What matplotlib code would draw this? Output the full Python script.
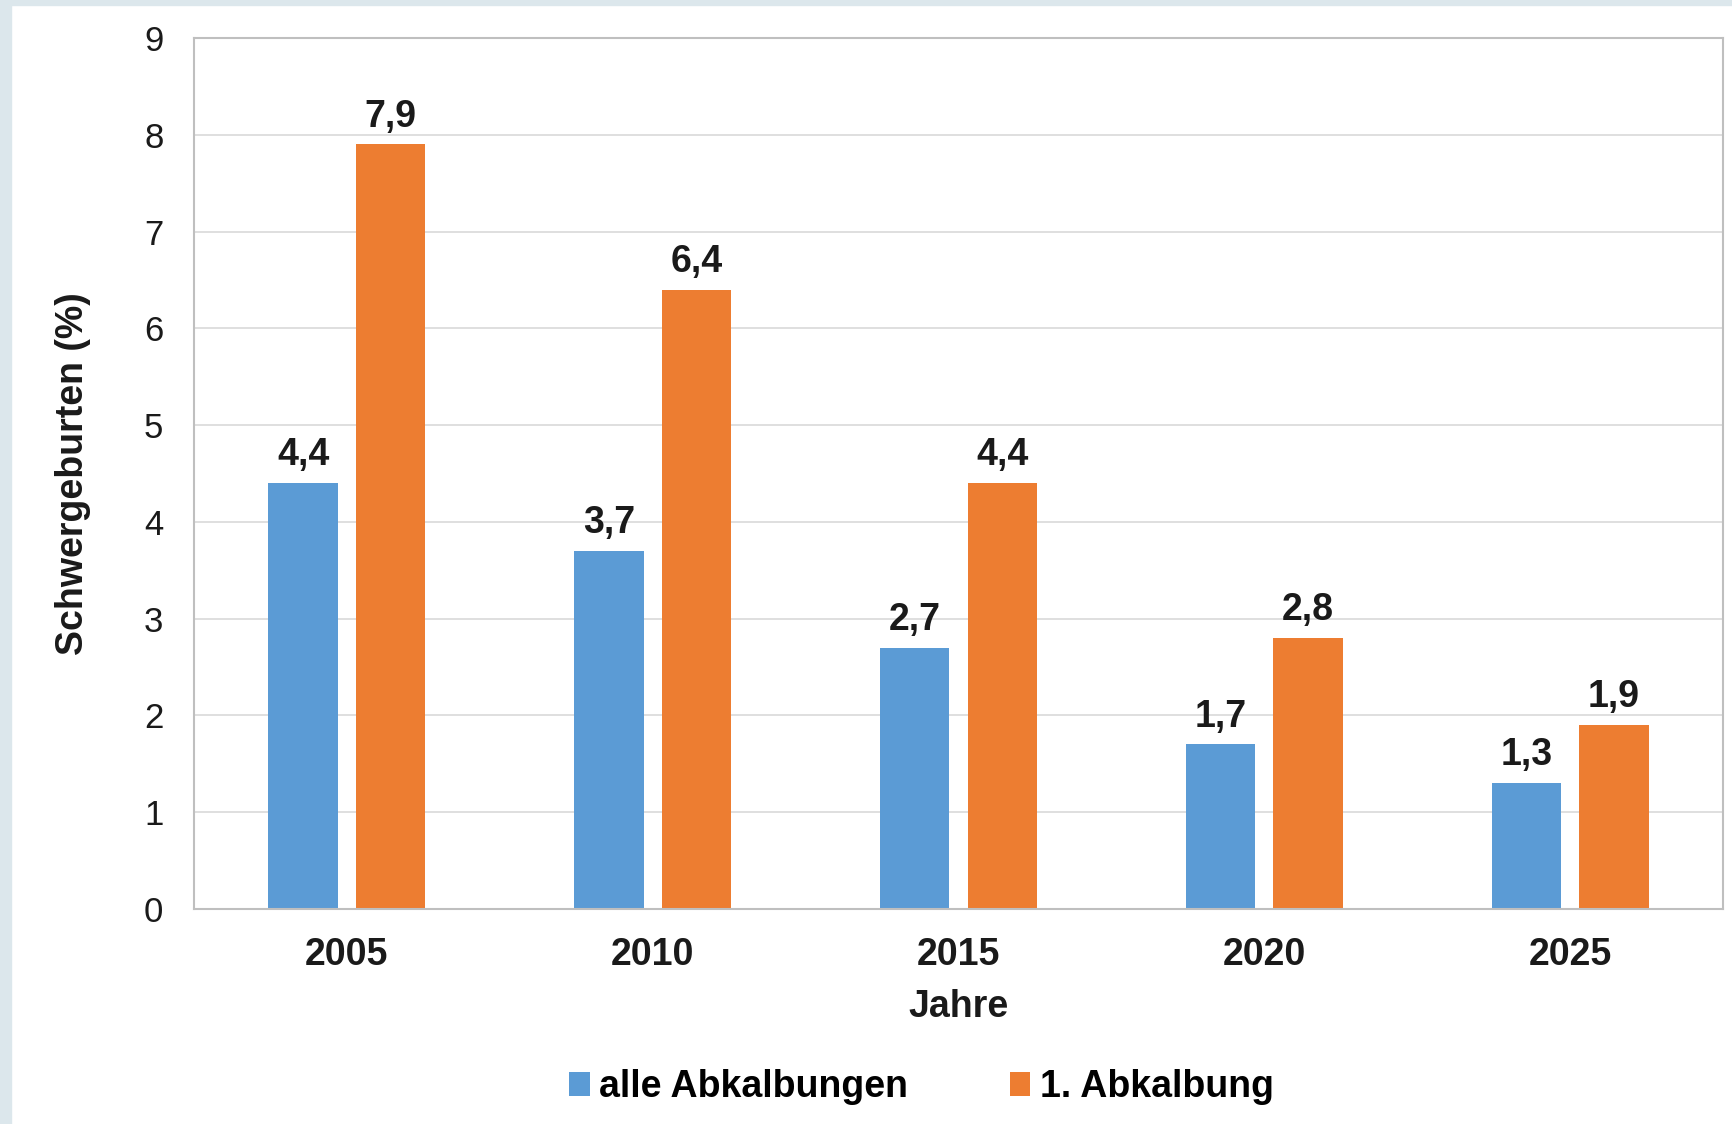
import numpy as np
import matplotlib.pyplot as plt
from matplotlib.patches import Rectangle

plt.rcParams['font.family'] = ['Liberation Sans', 'DejaVu Sans']

# Daten
jahre = ['2005', '2010', '2015', '2020', '2025']
alle_abkalbungen = [4.4, 3.7, 2.7, 1.7, 1.3]
erste_abkalbung = [7.9, 6.4, 4.4, 2.8, 1.9]
serien = ['alle Abkalbungen', '1. Abkalbung']
farben = ['#5b9bd5', '#ed7d31']

fig = plt.figure(figsize=(17.32, 11.24), dpi=100)
fig.patch.set_facecolor('white')
# hellblauer Rand oben und links
fig.patches.append(Rectangle((0, 0.9955), 1, 0.0045, transform=fig.transFigure,
                             color='#dce7ec', zorder=0))
fig.patches.append(Rectangle((0, 0), 0.0064, 1, transform=fig.transFigure,
                             color='#dce7ec', zorder=0))

ax = fig.add_axes([194 / 1732, 1 - 909 / 1124, (1723 - 194) / 1732, (909 - 38) / 1124])

x = np.arange(len(jahre))
breite = 0.227
versatz = 0.143

for werte, farbe, name, dx in zip([alle_abkalbungen, erste_abkalbung], farben, serien,
                                  [-versatz, versatz]):
    bars = ax.bar(x + dx, werte, width=breite, color=farbe, label=name, zorder=2)
    for b, w in zip(bars, werte):
        ax.annotate(f'{w:.1f}'.replace('.', ','), (b.get_x() + b.get_width() / 2, w),
                    xytext=(0, 7), textcoords='offset points', ha='center', va='bottom',
                    fontsize=27, fontweight='bold', color='#1a1a1a')

ax.set_xlim(-0.5, len(jahre) - 0.5)
ax.set_ylim(0, 9)
ax.set_yticks(range(10))
ax.set_xticks(x)
ax.set_xticklabels(jahre, fontsize=27, fontweight='bold', color='#1a1a1a')
ax.tick_params(axis='y', labelsize=25, length=0, pad=22, labelcolor='#1a1a1a')
ax.tick_params(axis='x', length=0, pad=20)
ax.yaxis.grid(True, color='#d9d9d9', linewidth=1.2, zorder=0)
ax.set_axisbelow(True)
for s in ax.spines.values():
    s.set_color('#bfbfbf')
    s.set_linewidth(1.5)

ax.set_xlabel('Jahre', fontsize=27, fontweight='bold', labelpad=12, color='#1a1a1a')
ax.set_ylabel('Schwergeburten (%)', fontsize=27, fontweight='bold', labelpad=38,
              color='#1a1a1a')

fig.legend(loc='center', bbox_to_anchor=(0.532, 1 - 1087 / 1124), ncol=2, frameon=False,
           prop={'size': 27, 'weight': 'bold'}, handlelength=0.55, handleheight=0.6,
           handletextpad=0.25, columnspacing=2.7)

fig.savefig('out.png', dpi=100, facecolor='white')
